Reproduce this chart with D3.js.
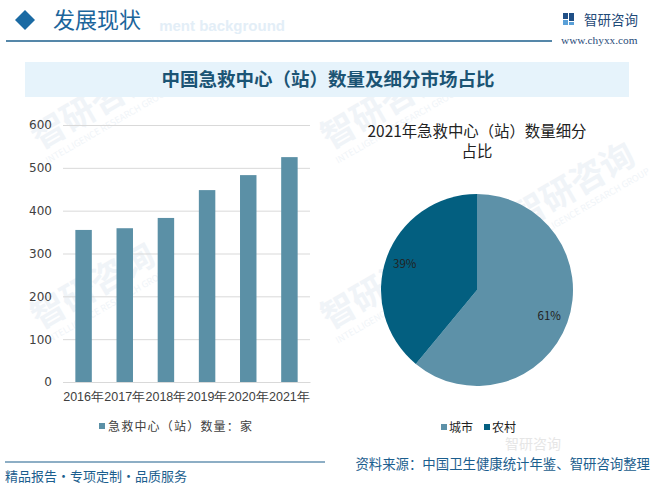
<!DOCTYPE html>
<html>
<head>
<meta charset="utf-8">
<script src="https://cdn.jsdelivr.net/npm/d3@7"></script>
<style>
  body { margin: 0; background: #fff; }
  svg { display: block; font-family: "Noto Sans CJK SC", "Noto Sans", sans-serif; }
</style>
</head>
<body>
<div id="chart"></div>
<script>
// Data
const years = ["2016年", "2017年", "2018年", "2019年", "2020年", "2021年"];
const centerCounts = [355, 359, 383, 448, 483, 525];
const yTicks = [0, 100, 200, 300, 400, 500, 600];
const pieLabels = ["城市", "农村"];
const pieValues = [61, 39];

const W = 656, H = 488;
const barColor = "#5b90a6";
const pieColors = ["#5d91a8", "#035f80"];

const svg = d3.select("#chart").append("svg")
  .attr("width", W).attr("height", H)
  .attr("viewBox", `0 0 ${W} ${H}`);

// Faint watermarks
const wm = svg.append("g").attr("fill", "#f0f4f8");
[[40, 150], [330, 150], [40, 330], [330, 330], [520, 230]].forEach(([x, y]) => {
  const g = wm.append("g").attr("transform", `translate(${x},${y}) rotate(-30)`);
  g.append("text").attr("font-size", 34).attr("font-weight", "bold").text("智研咨询");
  g.append("text").attr("y", 16).attr("font-size", 9).text("INTELLIGENCE RESEARCH GROUP");
});

// Header
svg.append("text")
  .attr("x", 285).attr("y", 31)
  .attr("text-anchor", "end")
  .attr("font-size", 15).attr("font-weight", "bold")
  .attr("font-family", "Arial, 'Liberation Sans', sans-serif")
  .attr("fill", "#e3eef7")
  .text("ment background");
svg.append("path")
  .attr("d", "M25,10 L35,20 L25,30 L15,20 Z")
  .attr("fill", "#1a6aa3");
svg.append("text")
  .attr("x", 53).attr("y", 28)
  .attr("font-size", 22)
  .attr("fill", "#1b659b")
  .text("发展现状");
svg.append("line")
  .attr("x1", 6).attr("x2", 552).attr("y1", 41).attr("y2", 41)
  .attr("stroke", "#1d5f8c").attr("stroke-width", 1.5);

// Logo
const logo = svg.append("g").attr("transform", "translate(563,13)");
logo.append("rect").attr("x", 0).attr("y", 0).attr("width", 5).attr("height", 6).attr("fill", "#1f4f86");
logo.append("rect").attr("x", 0).attr("y", 7).attr("width", 5).attr("height", 5).attr("fill", "#5aa0d8");
logo.append("rect").attr("x", 6).attr("y", 0).attr("width", 5).attr("height", 8).attr("fill", "#1f4f86");
logo.append("rect").attr("x", 6).attr("y", 9).attr("width", 5).attr("height", 3).attr("fill", "#5aa0d8");
svg.append("text")
  .attr("x", 584).attr("y", 25)
  .attr("font-size", 13.5).attr("fill", "#1f4a78")
  .text("智研咨询");
svg.append("text")
  .attr("x", 561).attr("y", 44)
  .attr("font-size", 11.3).attr("font-family", "'Liberation Serif', serif")
  .attr("fill", "#1f4a78")
  .text("www.chyxx.com");

// Title band
svg.append("rect")
  .attr("x", 25).attr("y", 62).attr("width", 604).attr("height", 35)
  .attr("fill", "#e6f3fb");
svg.append("text")
  .attr("x", 328).attr("y", 86)
  .attr("text-anchor", "middle")
  .attr("font-size", 18.5).attr("font-weight", "bold")
  .attr("fill", "#1b5474")
  .text("中国急救中心（站）数量及细分市场占比");

// Bar chart
const bx = d3.scaleBand().domain(years).range([63, 310]).paddingInner(0.6).paddingOuter(0.3);
const by = d3.scaleLinear().domain([0, 600]).range([382, 125]);

const yAxis = svg.append("g")
  .attr("transform", "translate(63,0)")
  .call(d3.axisLeft(by).tickValues(yTicks).tickSize(-247).tickPadding(11));
yAxis.select(".domain").remove();
yAxis.selectAll(".tick line").attr("stroke", "#d9d9d9");
yAxis.selectAll(".tick text").attr("font-size", 12).attr("fill", "#404040")
  .attr("font-family", "'DejaVu Sans', sans-serif");

svg.append("g")
  .selectAll("rect")
  .data(years.map((y, i) => ({ year: y, v: centerCounts[i] })))
  .join("rect")
  .attr("x", d => bx(d.year))
  .attr("width", bx.bandwidth())
  .attr("y", d => by(d.v))
  .attr("height", d => by(0) - by(d.v))
  .attr("fill", barColor);

const xAxis = svg.append("g")
  .attr("transform", "translate(0,382)")
  .call(d3.axisBottom(bx).tickSize(0).tickPadding(10));
xAxis.select(".domain").attr("stroke", "#d9d9d9");
xAxis.selectAll(".tick text").attr("font-size", 12.5).attr("fill", "#404040");

// Bar legend
svg.append("rect").attr("x", 99).attr("y", 423).attr("width", 6).attr("height", 6).attr("fill", barColor);
svg.append("text")
  .attr("x", 108).attr("y", 431)
  .attr("font-size", 12).attr("letter-spacing", 1.2).attr("fill", "#404040")
  .text("急救中心（站）数量：家");

// Pie chart
const cx = 477, cy = 290, r = 96;
svg.append("text")
  .attr("x", cx).attr("y", 137)
  .attr("text-anchor", "middle").attr("font-size", 15.4).attr("fill", "#222")
  .text("2021年急救中心（站）数量细分");
svg.append("text")
  .attr("x", cx).attr("y", 157)
  .attr("text-anchor", "middle").attr("font-size", 15.4).attr("fill", "#222")
  .text("占比");

const pie = d3.pie().sort(null).value(d => d)(pieValues);
const arc = d3.arc().innerRadius(0).outerRadius(r);
const labelArc = d3.arc().innerRadius(r * 0.8).outerRadius(r * 0.8);
const pg = svg.append("g").attr("transform", `translate(${cx},${cy})`);
pg.selectAll("path")
  .data(pie)
  .join("path")
  .attr("d", arc)
  .attr("fill", (d, i) => pieColors[i]);
pg.selectAll("text")
  .data(pie)
  .join("text")
  .attr("transform", d => `translate(${labelArc.centroid(d)})`)
  .attr("text-anchor", "middle").attr("dy", "0.35em")
  .attr("font-size", 11.5).attr("fill", "#222")
  .text(d => d.data + "%");

// Pie legend
const pl = svg.append("g");
const legX = [441, 484];
pieLabels.forEach((lab, i) => {
  pl.append("rect").attr("x", legX[i]).attr("y", 424).attr("width", 6).attr("height", 6).attr("fill", pieColors[i]);
  pl.append("text").attr("x", legX[i] + 8).attr("y", 432)
    .attr("font-size", 12).attr("fill", "#222").text(lab);
});

// Footer
svg.append("text")
  .attr("x", 505).attr("y", 449)
  .attr("font-size", 14).attr("fill", "#e6e6e6")
  .text("智研咨询");
svg.append("line")
  .attr("x1", 5).attr("x2", 325).attr("y1", 462).attr("y2", 462)
  .attr("stroke", "#1d5f8c").attr("stroke-width", 1.2);
svg.append("text")
  .attr("x", 5).attr("y", 481)
  .attr("font-size", 13).attr("fill", "#1b5e8e")
  .text("精品报告・专项定制・品质服务");
svg.append("text")
  .attr("x", 650).attr("y", 469)
  .attr("text-anchor", "end")
  .attr("font-size", 13.4).attr("fill", "#1b5e8e")
  .text("资料来源：中国卫生健康统计年鉴、智研咨询整理");
</script>
</body>
</html>
